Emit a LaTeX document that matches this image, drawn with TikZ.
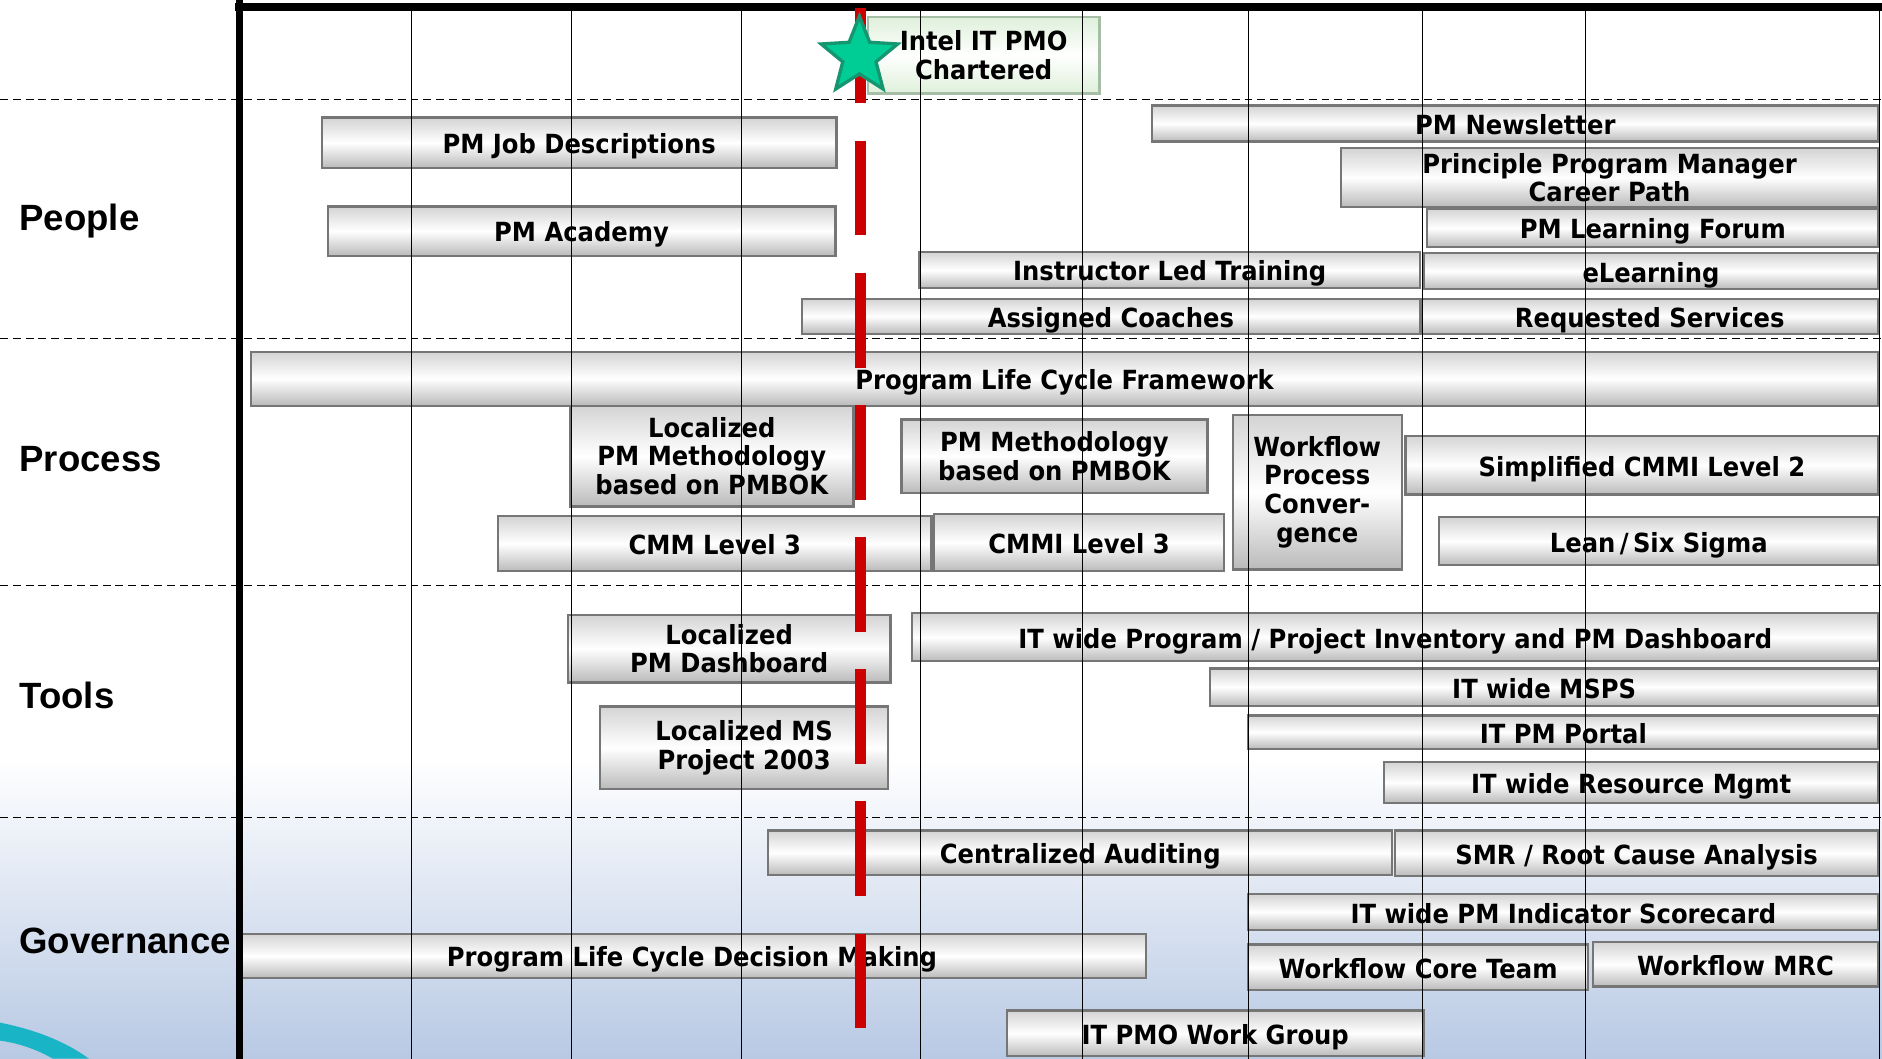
\documentclass[tikz,border=0pt]{standalone}
\usepackage{fontspec}
\usepackage{tikz}
\usetikzlibrary{shapes.geometric}
\setmainfont{Liberation Sans}
\newfontfamily\barfont{DejaVu Sans}[FakeStretch=0.92]

\definecolor{pmored}{RGB}{204,0,0}
\definecolor{stargreen}{RGB}{0,204,150}
\definecolor{staredge}{RGB}{22,150,112}
\definecolor{govblue}{RGB}{184,201,228}
\definecolor{swoosh}{RGB}{25,180,198}
\definecolor{baredge}{RGB}{118,118,118}
\definecolor{charterfill}{RGB}{222,240,218}
\definecolor{charteredge}{RGB}{165,190,165}

\begin{document}
\begin{tikzpicture}[x=0.024cm,y=-0.024cm,
                    tallbar/.style 2 args={rectangle,draw=baredge,line width=1.3pt,
                      top color=black!17,bottom color=black!27,middle color=white,
                      minimum width=#1*0.024cm,minimum height=#2*0.024cm,
                      inner sep=0pt,align=center,
                      font=\barfont\bfseries\fontsize{15}{16.4}\selectfont},
                    bar/.style 2 args={tallbar={#1}{#2},text height=12.4pt,text depth=0pt}]
  \tikzstyle{gridline}=[black,line width=0.7pt]
  \tikzstyle{lane}=[black,line width=0.7pt,dash pattern=on 4.5pt off 2.8pt]
  \tikzstyle{cat}=[anchor=base west,inner sep=0pt,font=\bfseries\fontsize{20.8}{24}\selectfont]

  \useasboundingbox (0,0) rectangle (1568,882);
  \shade[top color=white,bottom color=govblue] (0,630) rectangle (1568,882);
  \fill[swoosh] (0,852) .. controls (30,858) and (55,868) .. (74,882) -- (44,882)
        .. controls (30,874) and (15,869) .. (0,867) -- cycle;

  \foreach \y in {83,282,488,681}
    \draw[lane] (0,\y) -- (1568,\y);

  \node[cat] (people)     at (16,192) {People};
  \node[cat] (process)    at (16,393) {Process};
  \node[cat] (tools)      at (16,590) {Tools};
  \node[cat] (governance) at (16,794) {Governance};

  \node[tallbar={193}{64},draw=charteredge,top color=charterfill,bottom color=charterfill,
        middle color=white] (charter) at (819.5,46) {Intel IT PMO\\Chartered};

  \node[bar={429}{42}]  (jobdesc)    at (482.5,119)  {PM Job Descriptions};
  \node[bar={423}{41}]  (academy)    at (484.5,192.5) {PM Academy};
  \node[bar={605}{30}]  (newsletter) at (1262.5,103) {PM Newsletter};
  \node[tallbar={448}{49}] (career)  at (1341,148)   {Principle Program Manager\\Career Path};
  \node[bar={376}{32}]  (forum)      at (1377,190)   {PM Learning Forum};
  \node[bar={417}{30}]  (instructor) at (974.5,225)  {Instructor Led Training};
  \node[bar={379}{30}]  (elearning)  at (1375.5,226) {eLearning};
  \node[bar={515}{29}]  (coaches)    at (925.5,263.5) {Assigned Coaches};
  \node[bar={381}{29}]  (requested)  at (1374.5,263.5) {Requested Services};

  \node[bar={1356}{45}] (framework)  at (887,315.5)  {Program Life Cycle Framework};
  \node[tallbar={236}{84}]  (localmeth) at (593,380) {Localized\\PM Methodology\\based on PMBOK};
  \node[tallbar={255}{61}]  (pmmeth) at (878.5,380)  {PM Methodology\\based on PMBOK};
  \node[tallbar={141}{129}] (converge) at (1097.5,410) {Workflow\\Process\\Conver-\\gence};
  \node[bar={394}{49}]  (cmmitwo)    at (1368,387.5) {Simplified CMMI Level 2};
  \node[bar={361}{46}]  (cmmthree)   at (595.5,453)  {CMM Level 3};
  \node[bar={242}{48}]  (cmmithree)  at (899,452)    {CMMI Level 3};
  \node[bar={366}{40}]  (leansix)    at (1382,451)   {Lean\,/\,Six Sigma};

  \node[tallbar={269}{56}] (localdash) at (607.5,540.5) {Localized\\PM Dashboard};
  \node[bar={805}{40}]  (inventory)  at (1162.5,531) {IT wide Program / Project Inventory and PM Dashboard};
  \node[bar={557}{31}]  (msps)       at (1286.5,572.5) {IT wide MSPS};
  \node[bar={525}{28}]  (portal)     at (1302.5,610) {IT PM Portal};
  \node[tallbar={240}{69}] (msproject) at (620,623) {Localized MS\\Project 2003};
  \node[bar={412}{34}]  (resource)   at (1359,652)   {IT wide Resource Mgmt};

  \node[bar={520}{37}]  (auditing)   at (900,710.5)  {Centralized Auditing};
  \node[bar={403}{38}]  (rootcause)  at (1363.5,711) {SMR / Root Cause Analysis};
  \node[bar={525}{30}]  (scorecard)  at (1302.5,760) {IT wide PM Indicator Scorecard};
  \node[bar={757}{37}]  (decision)   at (576.5,796.5) {Program Life Cycle Decision Making};
  \node[bar={283}{38}]  (coreteam)   at (1181.5,806) {Workflow Core Team};
  \node[bar={238}{37}]  (mrc)        at (1446,803.5) {Workflow MRC};
  \node[bar={347}{38}]  (workgroup)  at (1012.5,861) {IT PMO Work Group};

  \foreach \x in {343,476,618,767,902,1040,1185,1321,1566}
    \draw[gridline] (\x,8) -- (\x,882);

  \draw[line width=4.4pt] (199.5,0) -- (199.5,882);
  \draw[line width=4.4pt] (196,6) -- (1568,6);

  \draw[pmored,line width=6pt,dash pattern=on 54pt off 21.2pt] (717,7) -- (717,882);

  \node[star,star points=5,star point ratio=2.3,minimum size=67*0.024cm,inner sep=0pt,
        fill=stargreen,draw=staredge,line width=1.9pt] (milestone) at (716,47) {};
\end{tikzpicture}
\end{document}
